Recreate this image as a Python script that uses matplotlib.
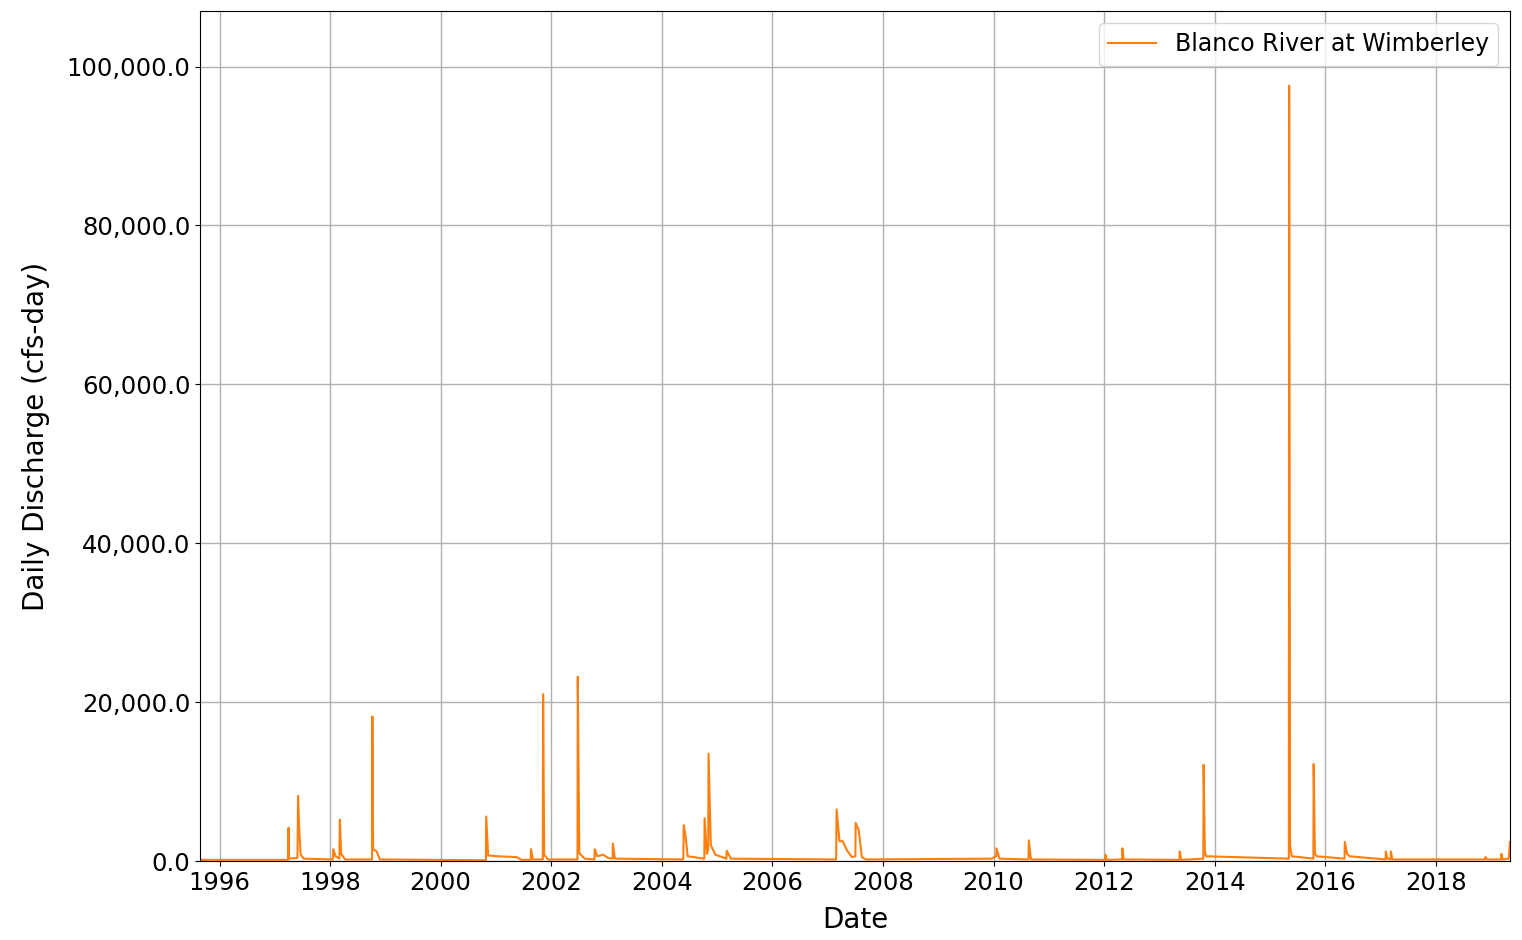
import matplotlib
matplotlib.use("Agg")
import matplotlib.pyplot as plt
import matplotlib.dates as mdates
import matplotlib.ticker as mticker
import pandas as pd

# -----------------------------
# Daily discharge (cfs-day)
# -----------------------------
flow_dates = [
    "1995-09-01", "1997-03-28", "1997-04-01", "1997-04-04",
    "1997-05-30", "1997-06-03", "1997-06-10", "1997-06-20", "1997-07-10",
    "1998-01-18", "1998-01-22", "1998-02-05", "1998-03-03", "1998-03-06", "1998-03-15", "1998-04-10",
    "1998-10-05", "1998-10-07", "1998-10-12", "1998-11-05", "1998-11-25",
    "2000-10-26", "2000-10-28", "2000-11-10", "2001-01-15", "2001-05-15", "2001-06-20",
    "2001-08-18", "2001-08-20", "2001-09-01",
    "2001-11-06", "2001-11-08", "2001-11-15", "2001-12-10",
    "2002-06-23", "2002-06-25", "2002-07-05", "2002-08-10",
    "2002-10-13", "2002-10-15", "2002-11-01", "2002-12-10", "2003-01-10",
    "2003-02-10", "2003-02-12", "2003-02-25",
    "2004-05-22", "2004-05-25", "2004-06-05", "2004-06-20",
    "2004-10-08", "2004-10-10", "2004-10-25", "2004-11-03", "2004-11-05", "2004-11-20", "2004-12-20",
    "2005-03-03", "2005-03-05", "2005-04-01",
    "2007-02-26", "2007-03-01", "2007-03-20", "2007-04-10", "2007-05-10", "2007-06-10",
    "2007-07-03", "2007-07-05", "2007-07-25", "2007-08-15", "2007-09-10",
    "2009-12-20", "2010-01-18", "2010-01-20", "2010-02-10",
    "2010-08-20", "2010-08-22", "2010-09-05",
    "2012-01-08", "2012-01-10", "2012-01-20", "2012-04-29", "2012-05-01", "2012-05-10",
    "2013-05-13", "2013-05-15", "2013-05-25",
    "2013-10-18", "2013-10-20", "2013-10-28", "2013-11-05",
    "2015-05-06", "2015-05-08", "2015-05-14", "2015-05-25",
    "2015-10-15", "2015-10-17", "2015-10-25", "2015-11-05",
    "2016-05-08", "2016-05-10", "2016-05-25", "2016-06-10",
    "2017-02-03", "2017-02-05", "2017-02-15", "2017-03-08", "2017-03-10", "2017-03-20",
    "2018-11-23", "2018-11-25", "2018-12-05",
    "2019-03-08", "2019-03-10", "2019-03-20", "2019-04-28", "2019-05-06",
]
flow_cfs = [
    150, 150, 4200, 300,
    400, 8200, 4300, 800, 300,
    200, 1500, 600, 300, 5200, 900, 200,
    200, 18200, 1500, 1200, 200,
    100, 5600, 700, 600, 500, 150,
    150, 1500, 200,
    200, 21000, 800, 200,
    200, 23200, 1000, 300,
    200, 1500, 600, 800, 400,
    300, 2200, 300,
    200, 4500, 3300, 600,
    300, 5400, 900, 1500, 13500, 2000, 800,
    300, 1300, 300,
    200, 6500, 2500, 2500, 1300, 500,
    600, 4800, 3900, 500, 200,
    300, 600, 1600, 300,
    200, 2600, 200,
    150, 800, 150, 200, 1600, 200,
    150, 1200, 150,
    300, 12100, 1200, 600,
    300, 97600, 2000, 600,
    300, 12200, 1000, 600,
    300, 2400, 900, 600,
    200, 1200, 300, 200, 1200, 200,
    200, 500, 200,
    200, 900, 200, 300, 2400,
]

series_label = "Blanco River at Wimberley"

dates = pd.to_datetime(flow_dates)

# -----------------------------
# Plot
# -----------------------------
plt.rcParams["font.size"] = 17.5
fig = plt.figure(figsize=(15.22, 9.40), dpi=100)
ax = fig.add_axes([0.1314, 0.084, 0.8607, 0.9043])

ax.plot(dates, flow_cfs, color="tab:orange", linewidth=1.5, label=series_label)

ax.set_xlim(pd.Timestamp("1995-08-25"), pd.Timestamp("2019-05-06"))
ax.set_ylim(0, 107000)

ax.xaxis.set_major_locator(mdates.YearLocator(2))
ax.xaxis.set_major_formatter(mdates.DateFormatter("%Y"))
ax.yaxis.set_major_locator(mticker.MultipleLocator(20000))
ax.yaxis.set_major_formatter(mticker.StrMethodFormatter("{x:,.1f}"))

ax.set_xlabel("Date", fontsize=20, labelpad=8)
ax.set_ylabel("Daily Discharge (cfs-day)", fontsize=20, labelpad=12)
ax.grid(True, color="#b0b0b0", linewidth=1.0)
ax.legend(loc="upper right", fontsize=17)

fig.savefig("out.png", dpi=100)
